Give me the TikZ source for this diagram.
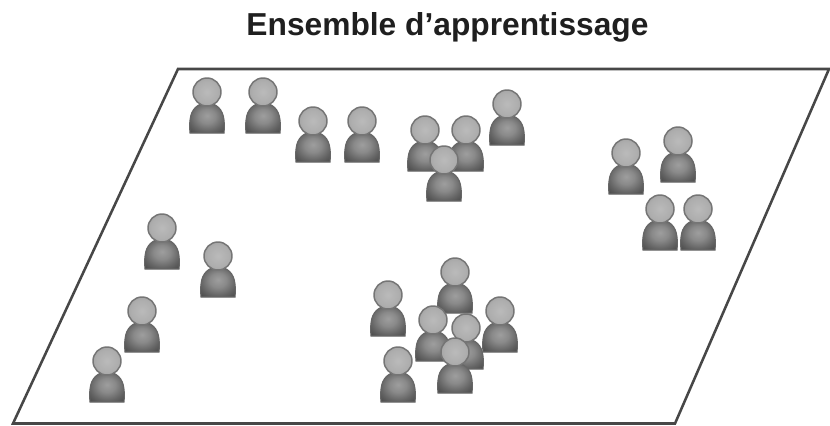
\documentclass[tikz,border=0pt]{standalone}
\usepackage{fontspec}
\setmainfont{Liberation Sans}
\definecolor{frameC}{gray}{0.28}
\definecolor{edgeC}{gray}{0.40}
\definecolor{headEdge}{gray}{0.46}
\pgfdeclareradialshading{bodyshade}{\pgfpoint{0bp}{4bp}}{
  color(0bp)=(black!38);
  color(12bp)=(black!46);
  color(24bp)=(black!60);
  color(36bp)=(black!72);
  color(50bp)=(black!78)}
\pgfdeclareradialshading{headshade}{\pgfpoint{0bp}{0bp}}{
  color(0bp)=(black!27);
  color(20bp)=(black!32);
  color(34bp)=(black!40);
  color(50bp)=(black!46)}
\tikzset{
  plane/.style={draw=frameC,line width=1.9pt,line join=miter},
  titletext/.style={font=\bfseries\fontsize{23.8}{26}\selectfont,text=black!88,inner sep=0pt},
  personbody/.style={draw=edgeC,line width=0.8pt,shading=bodyshade},
  personhead/.style={draw=headEdge,line width=1.1pt,shading=headshade},
  person/.pic={
    \path[personbody] (-17,41) .. controls (-17.5,36) and (-17.5,32) .. (-17,28) .. controls (-16,17) and (-9,11) .. (0,11)
      .. controls (9,11) and (16,17) .. (17,28) .. controls (17.5,32) and (17.5,36) .. (17,41) -- cycle;
    \path[personhead] (0,0) circle[radius=14];
  }
}
\begin{document}
\begin{tikzpicture}[x=0.75pt,y=-0.75pt]
\useasboundingbox (0,0) rectangle (830,425);
\fill[white] (0,0) rectangle (830,425);
\node[titletext] (title) at (447.5,27) {Ensemble d’apprentissage};
\draw[plane] (178,69) -- (829,69) -- (675,423.5) -- (13,423.5) -- cycle;
\foreach \px/\py in {207/92,263/92,313/121,362/121,425/130,466/130,507/104,444/160,
  626/153,678/141,660/209,698/209,
  162/228,218/256,142/311,107/361,
  388/295,455/272,500/311,433/320,466/328,455/352,398/361}
  \pic at (\px,\py) {person};
\end{tikzpicture}
\end{document}
